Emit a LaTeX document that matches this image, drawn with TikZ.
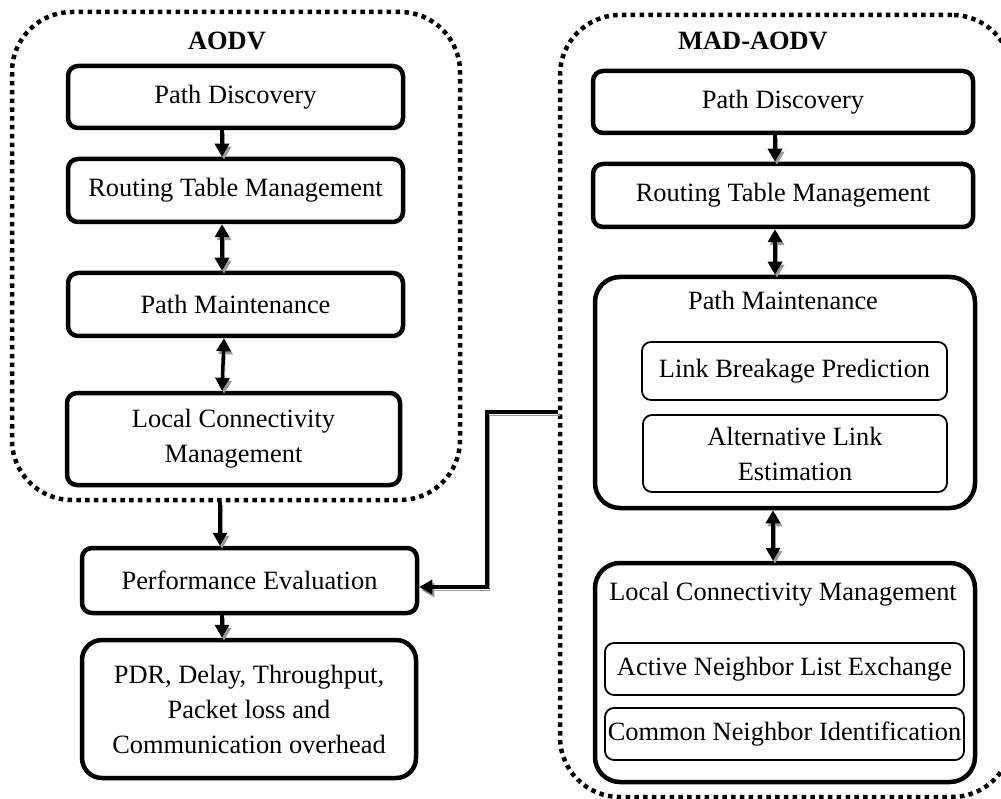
\documentclass[tikz,border=0pt]{standalone}
\usepackage{fontspec}
\setmainfont{Liberation Serif}
\usetikzlibrary{arrows.meta}
\begin{document}
\begin{tikzpicture}[x=1pt,y=-1pt,
  every node/.style={font=\fontsize{26.4}{35}\selectfont, inner sep=0pt, align=center},
  container/.style={draw, line width=4.5pt, dash pattern=on 4.5pt off 4.3pt, rounded corners=60pt},
  stepbox/.style={draw, line width=4.5pt, rounded corners=10pt},
  bigbox/.style={draw, line width=4.5pt, rounded corners=25pt},
  subbox/.style={draw, line width=1.8pt, rounded corners=9pt},
  title/.style={font=\fontsize{26.4}{35}\selectfont\bfseries, anchor=base},
  shadowed/.style={preaction={draw=black!40, transform canvas={shift={(2pt,-3pt)}}}},
  onearrow/.style={line width=3.5pt, shadowed, -{Triangle[width=14pt,length=13pt]}},
  twoarrow/.style={line width=3.5pt, shadowed, {Triangle[width=14pt,length=13pt]}-{Triangle[width=14pt,length=13pt]}}
]
\useasboundingbox (0,0) rectangle (1001,799);

% containers
\node[container, minimum width=448pt, minimum height=488pt] (aodv) at (236,256) {};
\node[container, minimum width=452pt, minimum height=782pt] (mad) at (786,406) {};
\node[title] (aodvt) at (227,50) {AODV};
\node[title] (madt) at (753,50) {MAD-AODV};

% AODV column
\node[stepbox, minimum width=335pt, minimum height=62pt] (a1) at (235.5,97) {Path Discovery};
\node[stepbox, minimum width=335pt, minimum height=63pt] (a2) at (235.5,190.5) {Routing Table Management};
\node[stepbox, minimum width=335pt, minimum height=63pt] (a3) at (235.5,304.5) {Path Maintenance};
\node[stepbox, minimum width=333pt, minimum height=92pt] (a4) at (233.5,439) {Local Connectivity\\Management};
\node[stepbox, minimum width=335pt, minimum height=65pt] (pe) at (249.5,580.5) {Performance Evaluation};
\node[stepbox, rounded corners=20pt, minimum width=334pt, minimum height=138pt] (pdr) at (249,709) {PDR, Delay, Throughput,\\Packet loss and\\Communication overhead};

\draw[onearrow] ([xshift=-13.5pt]a1.south) -- ([xshift=-13.5pt]a2.north);
\draw[twoarrow] ([xshift=-13.5pt]a2.south) -- ([xshift=-13.5pt]a3.north);
\draw[twoarrow] ([xshift=-11.5pt]a3.south) -- ([xshift=-11.5pt]a4.north);
\draw[onearrow] ([xshift=-16pt]aodv.south) -- ([xshift=-16pt]aodv.south |- pe.north);
\draw[onearrow] ([xshift=-27.5pt]pe.south) -- ([xshift=-27.5pt]pe.south |- pdr.north);

% MAD-AODV column
\node[stepbox, minimum width=380pt, minimum height=62pt] (b1) at (783,102) {Path Discovery};
\node[stepbox, minimum width=380pt, minimum height=63pt] (b2) at (783,195.5) {Routing Table Management};
\node[bigbox, minimum width=380pt, minimum height=231pt] (b3) at (785,392.5) {};
\node[anchor=base] (b3t) at (783,310) {Path Maintenance};
\node[subbox, minimum width=305pt, minimum height=58pt] (b3a) at (794.5,371) {Link Breakage Prediction};
\node[subbox, minimum width=304pt, minimum height=77pt] (b3b) at (795,453.5) {Alternative Link\\Estimation};
\node[bigbox, minimum width=380pt, minimum height=219pt] (b4) at (785,672.5) {};
\node[anchor=base] (b4t) at (783,600) {Local Connectivity Management};
\node[subbox, minimum width=359pt, minimum height=52pt] (b4a) at (784.5,669) {Active Neighbor List Exchange};
\node[subbox, minimum width=359pt, minimum height=52pt] (b4b) at (784.5,734) {Common Neighbor Identification};

\draw[onearrow] ([xshift=-8pt]b1.south) -- ([xshift=-8pt]b2.north);
\draw[twoarrow] ([xshift=-8pt]b2.south) -- ([xshift=-10pt]b3.north);
\draw[twoarrow] ([xshift=-12pt]b3.south) -- ([xshift=-12pt]b4.north);

% connector from MAD-AODV to Performance Evaluation
\coordinate (bend) at (487,412);
\draw[onearrow] ([yshift=-6pt]mad.west) -- (bend) |- ([yshift=-6.5pt]pe.east);
\end{tikzpicture}
\end{document}
